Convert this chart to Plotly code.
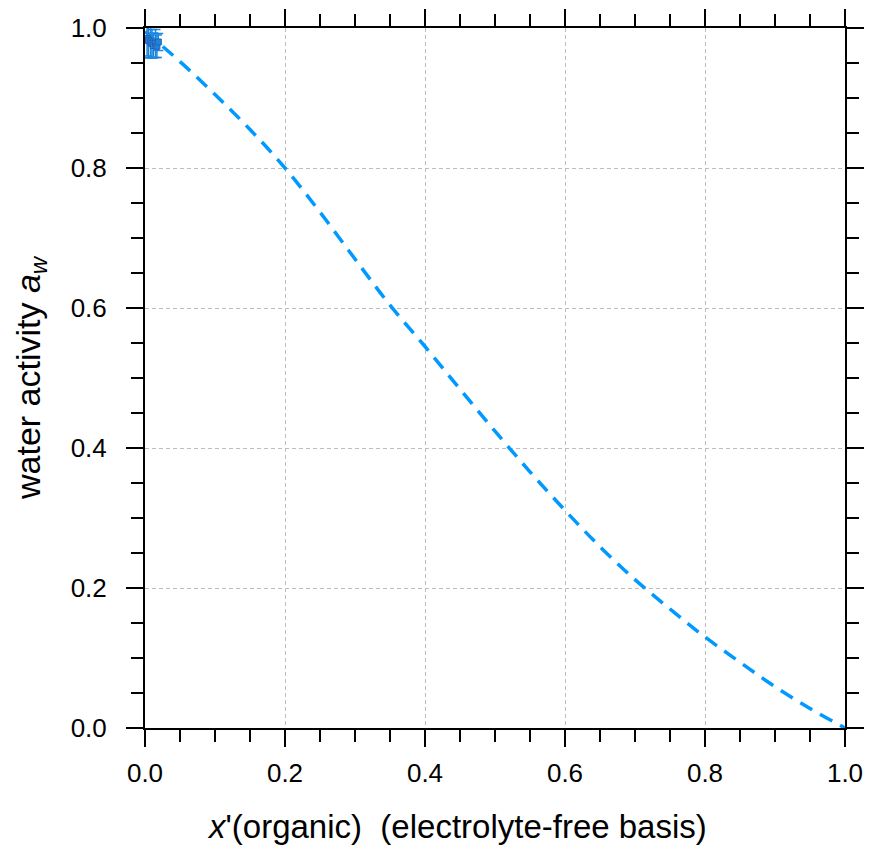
import plotly.graph_objects as go

# Model curve (dashed)
curve_x = [0.0, 0.05, 0.1, 0.15, 0.2, 0.25, 0.3, 0.35, 0.4, 0.45, 0.5, 0.55, 0.6, 0.65, 0.7, 0.75, 0.8, 0.85, 0.9, 0.95, 1.0]
curve_y = [0.995, 0.952, 0.905, 0.855, 0.800, 0.737, 0.670, 0.604, 0.545, 0.484, 0.424, 0.366, 0.311, 0.259, 0.212, 0.170, 0.130, 0.094, 0.059, 0.028, 0.0]

# Measured points (with error bars)
data_x = [0.003, 0.005, 0.008, 0.010, 0.012, 0.015, 0.017, 0.019]
data_y = [0.985, 0.982, 0.980, 0.978, 0.975, 0.978, 0.974, 0.980]
data_err = [0.025, 0.025, 0.022, 0.020, 0.018, 0.020, 0.016, 0.012]

x_ticks = [0.0, 0.2, 0.4, 0.6, 0.8, 1.0]
x_ticklabels = ["0.0", "0.2", "0.4", "0.6", "0.8", "1.0"]
y_ticks = [0.0, 0.2, 0.4, 0.6, 0.8, 1.0]
y_ticklabels = ["0.0", "0.2", "0.4", "0.6", "0.8", "1.0"]

x_title = "<i>x</i>'(organic)\u00a0\u00a0(electrolyte-free basis)"
y_title = "water activity <i>a</i><sub><i>w</i></sub>"

FONT = "Liberation Sans, Arial, sans-serif"

fig = go.Figure()
fig.add_trace(go.Scatter(
    x=curve_x, y=curve_y, mode="lines",
    line=dict(color="#0099ff", width=3.5, dash="14px,9px", shape="spline"),
    showlegend=False,
))
fig.add_trace(go.Scatter(
    x=data_x, y=data_y, mode="markers",
    marker=dict(symbol="square", size=6, color="#1b86e0",
                line=dict(color="#2a5fb0", width=1)),
    error_y=dict(type="data", array=data_err, visible=True,
                 color="#1b86e0", thickness=1.5, width=5),
    showlegend=False,
))

axis_common = dict(
    range=[0, 1], automargin=False,
    showline=True, linecolor="black", linewidth=2, mirror="ticks",
    ticks="outside", ticklen=17, tickwidth=1.5, tickcolor="black",
    showgrid=True, gridcolor="#bdbdbd", gridwidth=1, griddash="4px,3px",
    zeroline=False,
    tickfont=dict(family=FONT, size=26, color="black"),
    minor=dict(dtick=0.05, ticks="outside", ticklen=12, tickwidth=1.5,
               tickcolor="black", showgrid=False),
)

fig.update_xaxes(
    **axis_common,
    tickmode="array", tickvals=x_ticks, ticktext=x_ticklabels,
    ticklabelstandoff=4,
)
fig.update_yaxes(
    **axis_common,
    tickmode="array", tickvals=y_ticks, ticktext=y_ticklabels,
    ticklabelstandoff=14,
    title=dict(text=y_title,
               font=dict(family=FONT, size=34, color="black"), standoff=20),
)

# x-axis title placed as an annotation (it sits left of the plot centre)
fig.add_annotation(
    text=x_title, xref="paper", yref="paper",
    x=0.446, y=-0.14, xanchor="center", yanchor="middle",
    showarrow=False, font=dict(family=FONT, size=33, color="black"),
)

fig.update_layout(
    width=869, height=847,
    margin=dict(l=145, r=24, t=28, b=119),
    plot_bgcolor="white", paper_bgcolor="white",
    font=dict(family=FONT, color="black"),
)

fig.write_html(
    "out.html",
    config={"displayModeBar": False},
    post_script="document.body.style.margin='0';document.body.style.overflow='hidden';",
)
